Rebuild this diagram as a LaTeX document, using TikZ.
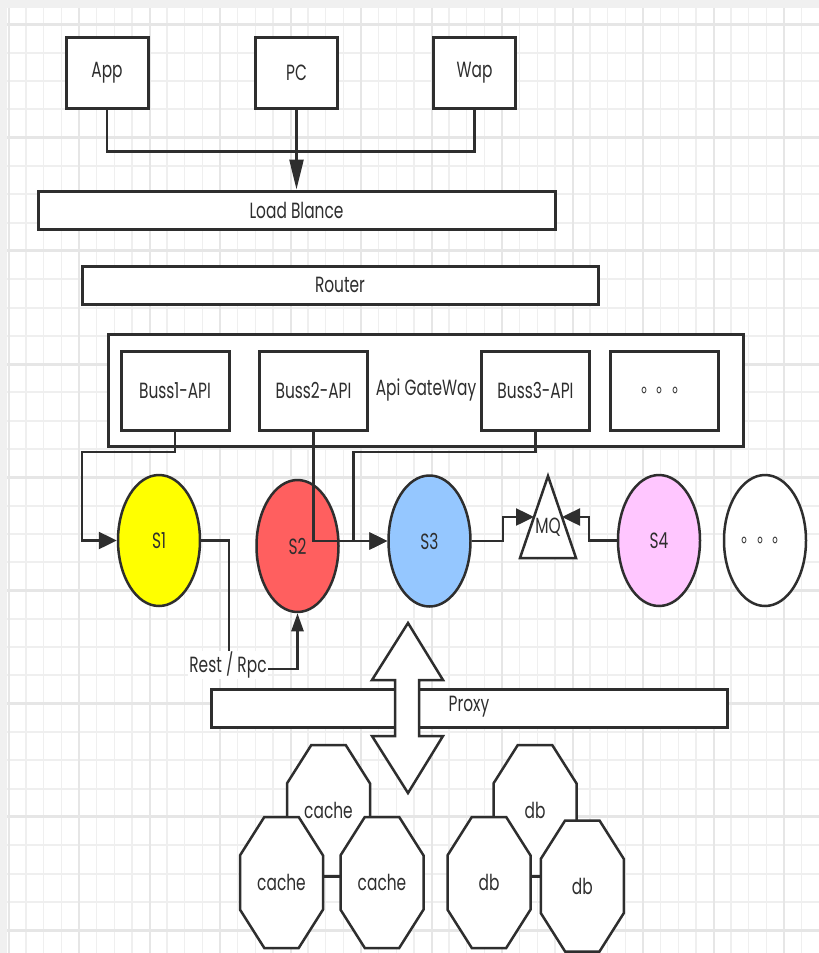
\documentclass[tikz,border=0pt]{standalone}
\usepackage{fontspec}
\setmainfont[FakeStretch=0.7]{Poppins}
\newfontfamily\cjk[FakeStretch=0.7]{Noto Sans CJK SC}
\usetikzlibrary{arrows.meta,shapes.geometric}
\definecolor{ink}{HTML}{2E2E2E}
\definecolor{gridminor}{HTML}{EFEFEF}
\definecolor{gridmajor}{HTML}{E6E6E6}
\definecolor{band}{HTML}{F0F0F0}
\definecolor{sone}{HTML}{FFFF00}
\definecolor{stwo}{HTML}{FF5F5F}
\definecolor{sthree}{HTML}{95C7FF}
\definecolor{sfour}{HTML}{FFC6FF}
\newcommand\labelfont{\fontsize{22}{26}\selectfont}
% octagon outline (stretched regular octagon, 83 x 131) with its text node on top
\newcommand\octnode[4]{%
  \draw[octa] (#2,#3) +(-17.2,-65.5) -- +(17.2,-65.5) -- +(41.5,-27.1) -- +(41.5,27.1)
     -- +(17.2,65.5) -- +(-17.2,65.5) -- +(-41.5,27.1) -- +(-41.5,-27.1) -- cycle;
  \node[octtext] (#1) at (#2,#3) {#4};}
\tikzset{
  box/.style={draw=ink, line width=3pt, fill=white, inner sep=0pt, text=ink, font=\labelfont},
  bar/.style={box, minimum width=516pt, minimum height=38pt},
  client/.style={box, minimum width=82pt, minimum height=71pt},
  api/.style={box, minimum width=108pt, minimum height=79pt},
  svc/.style={draw=ink, line width=2.5pt, ellipse, inner sep=0pt, text=ink, font=\labelfont,
              minimum width=82pt, minimum height=131pt},
  link/.style={draw=ink, line width=2.5pt},
  harrow/.style={-{Triangle[length=18pt,width=17pt]}},
  varrow/.style={-{Triangle[length=18pt,width=12pt]}},
  octa/.style={draw=ink, line width=2.5pt, fill=white, line join=miter},
  octtext/.style={inner sep=0pt, minimum width=83pt, minimum height=131pt, text=ink, font=\labelfont},
  plain/.style={inner sep=1pt, text=ink, font=\labelfont},
}
\begin{document}
\begin{tikzpicture}[x=1pt, y={(0pt,-1pt)}]
\useasboundingbox (0,0) rectangle (819,953);
% paper background with grid
\fill[white] (0,0) rectangle (819,953);
\fill[band] (0,0) rectangle (819,8);
\fill[band] (0,0) rectangle (7,953);
\foreach \k in {0,...,46} \draw[gridminor, line width=1.3pt] (8.5+17.625*\k,8) -- (8.5+17.625*\k,953);
\foreach \k in {0,...,33} \draw[gridminor, line width=2pt] (7,24.5+28.3*\k) -- (819,24.5+28.3*\k);
\foreach \k in {0,4,...,44} \draw[gridmajor, line width=2pt] (8.5+17.625*\k,8) -- (8.5+17.625*\k,953);
\foreach \k in {0,4,...,32} \draw[gridmajor, line width=3pt] (7,24.5+28.3*\k) -- (819,24.5+28.3*\k);

% clients
\node[client] (app) at (107,72.5) {App};
\node[client] (pc)  at (296.5,72.5) {PC};
\node[client] (wap) at (474.5,72.5) {Wap};

% load balancer and router
\node[bar, minimum width=517pt] (lb) at (296.5,210) {Load Blance};
\node[bar] (router) at (340,285) {Router};

\draw[link] (app.south) -- ++(0,42) -| (wap.south);
\draw[link, -{Triangle[length=30pt,width=14pt]}] (pc.south) -- (lb.north);

% api gateway
\node[box, minimum width=635pt, minimum height=112pt] (gw) at (425.5,390) {};
\node[plain] (gwlabel) at (426,390) {Api GateWay};
\node[api] (b1) at (175,390.5) {Buss1-API};
\node[api] (b2) at (313.5,390.5) {Buss2-API};
\node[api] (b3) at (535.5,390.5) {Buss3-API};
\node[api] (bmore) at (664.5,390.5) {\cjk 。。。};

% services
\node[svc, fill=sone] (s1) at (159,540.5) {S1};
\node[svc, fill=stwo, minimum height=132pt] (s2) at (297.5,546) {S2};
\node[svc, fill=sthree] (s3) at (429.5,541) {S3};
\node[svc, fill=sfour] (s4) at (659,540.5) {S4};
\node[svc, fill=white] (smore) at (765,540.5) {\cjk 。。。};

% message queue
\draw[draw=ink, line width=2.5pt, fill=white, line join=miter] (548,476) -- (576,558) -- (520,558) -- cycle;
\node[plain] (mq) at (548,527) {MQ};
\coordinate (mqL) at (534,517);
\coordinate (mqR) at (562,517);

% gateway to services
\draw[link, harrow] (b1.south) |- (82,452) |- (s1.west);
\draw[link, harrow] (b2.south) |- (s3.west);
\draw[link, harrow] (b3.south) |- (353.5,452) |- (s3.west);

% services to queue
\draw[link, harrow] (s3.east) -| (503,517) -- (mqL);
\draw[link, harrow] (s4.west) -| (589,517) -- (mqR);

% service to service call
\draw[link, varrow] (s1.east) -| (229,669) -| (s2.south);
\node[plain, fill=white] (rest) at (228,665) {Rest / Rpc};

% proxy with the two-way arrow through it
\node[bar] (proxy) at (469,708) {};
\node[plain] (proxylabel) at (469,707) {Proxy};
\draw[draw=ink, line width=2.5pt, fill=white, line join=miter]
  (408,623) -- (443,680) -- (419,680) -- (419,736) -- (443,736) -- (408,793)
  -- (372,736) -- (395,736) -- (395,680) -- (372,680) -- cycle;

% cache cluster
\octnode{cacheT}{328.5}{810.5}{cache}
\octnode{cacheL}{281.5}{882.5}{cache}
\octnode{cacheR}{382}{882.5}{cache}
\draw[link] ([yshift=5.5pt]cacheL.east) -- ([yshift=5.5pt]cacheR.west);

% database cluster
\octnode{dbT}{535}{810.5}{db}
\octnode{dbL}{489}{882.5}{db}
\octnode{dbR}{582.3}{886}{db}
\draw[link] ([yshift=5.5pt]dbL.east) -- ([yshift=5.5pt]dbL.east -| dbR.west);
\end{tikzpicture}
\end{document}
